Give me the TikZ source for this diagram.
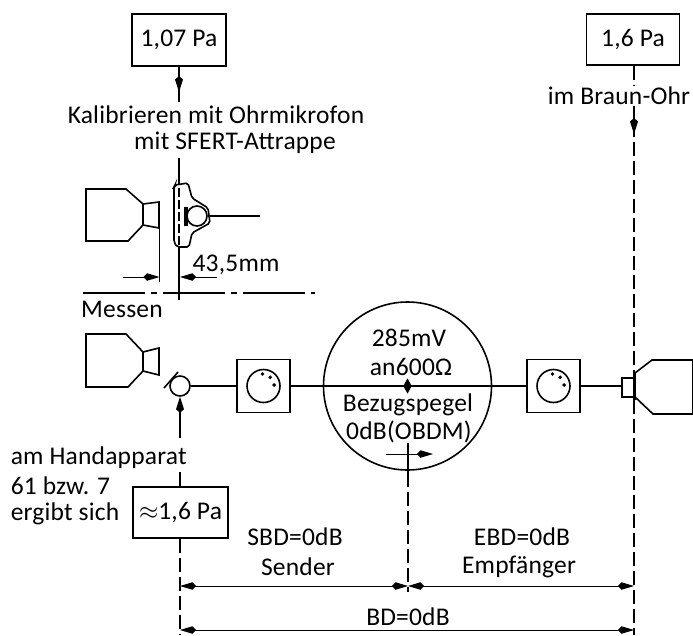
\documentclass[tikz,border=0pt]{standalone}
\usepackage{fontspec}
\setmainfont{Carlito}[LetterSpace=0.8]
\usetikzlibrary{positioning, arrows.meta, shapes.geometric, calc}

\begin{document}
\begin{tikzpicture}[
  x=1pt, y=-1pt,
  font=\fontsize{25.5}{27}\selectfont,
  line width=1.6pt,
  box/.style={draw, line width=1.8pt, inner sep=0pt},
  pegel/.style={box, minimum width=53pt, minimum height=53pt},
  knob/.style={draw, circle, minimum size=33pt, inner sep=0pt},
  knobdot/.style={fill, circle, inner sep=1.4pt},
  txt/.style={inner sep=1pt},
  mask/.style={txt, fill=white},
  arrow/.style={-{Kite[length=16pt, width=8pt, inset=3.5pt]}},
  dimline/.style={{Kite[length=16pt, width=7.5pt, inset=3.5pt]}-{Kite[length=16pt, width=7.5pt, inset=3.5pt]}, line width=1pt},
  dimright/.style={-{Kite[length=16pt, width=7.5pt, inset=3.5pt]}, line width=1pt},
  bezug/.style={dash pattern=on 14pt off 5pt},
  thin1/.style={line width=1pt},
]
\path[use as bounding box] (0,0) rectangle (693,635);

\node[box, minimum width=94pt, minimum height=52pt] (soll) at (179,40) {1,07 Pa};
\node[box, minimum width=93pt, minimum height=51pt] (ohr) at (633,39.5) {1,6 Pa};
\node[box, minimum width=95pt, minimum height=51pt] (hand) at (180.5,512.5) {$\approx$1,6 Pa};
\node[pegel] (sender) at (263.5,386) {};
\node[pegel] (empf) at (553.5,386) {};
\node[knob] (knobS) at (263.5,386) {};
\node[knob] (knobE) at (553.5,386) {};
\node[draw, circle, minimum size=168pt, inner sep=0pt] (bezugspegel) at (407.5,386) {};
\node[draw, circle, minimum size=20pt, inner sep=0pt] (mikro) at (180,386) {};
\coordinate (ohrmik) at (197,216);

% Kalibrieren
\coordinate (attrO) at (179,102);
\coordinate (attrU) at (179,158);
\coordinate (trenn) at (179,300);
\coordinate (wire) at (260,216);
\draw (soll.south -| attrO) -- (attrO);
\draw[arrow] (soll.south -| attrO) -- (179,92);
\draw (attrU) -- (trenn);
\draw[fill=white, rounded corners=2pt] (175,185) -- (188,183) -- (192,198) -- (208,208) -- (210,223)
  -- (192,233) -- (189,247) -- (177,247) -- (174,242) -- (174,187) -- cycle;
\draw[dash pattern=on 9pt off 3pt] (179,188) -- (179,245);
\draw[line width=4pt] (186,207) -- (186,226);
\node[draw, fill=white, circle, minimum size=20pt, inner sep=0pt] (kapsel) at (ohrmik) {};
\draw (kapsel.east) -- (wire);

% Lautsprecher
\draw (86,189) -- (126,189) -- (143,204) -- (159,202) -- (159,228) -- (143,225) -- (128,241) -- (86,241) -- cycle;
\draw (143,204) -- (143,225);
\draw (86,334) -- (126,334) -- (143,352) -- (159,348) -- (159,375) -- (143,371) -- (128,387) -- (86,387) -- cycle;
\draw (143,352) -- (143,371);
\draw (622,378) -- (634,378) -- (634,397) -- (622,397) -- cycle;
\draw (635,373) -- (652,360) -- (693,360) -- (693,414) -- (653,414) -- (635,397);
\draw[line width=2.4pt] (634.5,372) -- (634.5,400);

% Masslinie 43,5
\coordinate (massA) at (159.5,277);
\coordinate (massB) at (180,277);
\draw[thin1] (159.5,228) -- (159.5,282);
\draw[dimright] (123,277) -- (massA);
\draw[dimright] (217,277) -- (massB);
\draw[dash pattern=on 62pt off 6pt on 6pt off 6pt] (83,293) -- (315,293);

% Messen
\draw (164,388) -- (178,372);
\draw (mikro.east) -- (sender.west);
\draw (sender.east) -- (empf.west);
\draw (empf.east) -- (622,386);
\coordinate (handO) at (180,438);
\coordinate (handU) at (180,472);
\draw[arrow] (handO) -- (mikro.south);
\draw (handU) -- (hand.north -| handU);
\node[diamond, fill, minimum width=9pt, minimum height=16pt, inner sep=0pt] (mitte) at (bezugspegel) {};
\foreach \k in {knobS, knobE} {
  \node[knobdot] at ($(\k)+(-1,-12)$) {};
  \node[knobdot] at ($(\k)+(6.7,-8.7)$) {};
  \node[knobdot] at ($(\k)+(10.7,-1)$) {};
}

% Bezugslinien
\coordinate (s0) at (180,586);
\coordinate (s1) at (180,635);
\coordinate (m1) at (408,473);
\coordinate (m2) at (408,592);
\coordinate (r0) at (634,586);
\coordinate (r1) at (634,630);
\draw[bezug] (hand.south -| s0) -- (s1);
\draw (408,443) -- (m1);
\draw[bezug] (m1) -- (m2);
\draw[dimright] (386,454) -- (433,454);
\draw[bezug] (ohr.south -| r0) -- (634,372);
\draw[bezug] (634,400) -- (634,635);
\draw[arrow] (634,107) -- (634,134);
\coordinate (m0) at (408,586);
\draw[dimline] (s0) -- (m0);
\draw[dimline] (m0) -- (r0);
\draw[dimline] (180,630) -- (r1);

% Texte
\node[mask] (kalib) at (216,115) {Kalibrieren mit Ohrmikrofon};
\node[mask] (sfert) at (235,143) {mit SFERT-Attrappe};
\node[mask] (braun) at (619,96) {im Braun-Ohr};
\node[txt] (mass) at (236,265) {43,5mm};
\node[txt] (messen) at (122,309) {Messen};
\node[txt] (mv) at (409,338) {285mV};
\node[txt] (an) at (411,367) {an600Ω};
\node[txt] (bzg) at (408,405) {Bezugspegel};
\node[txt] (obdm) at (409,432) {0dB(OBDM)};
\node[txt, anchor=west] (handapp) at (9,458) {am Handapparat};
\node[txt, anchor=west] (bzw) at (9,486) {61 bzw. 7};
\node[txt, anchor=west] (ergibt) at (9,514) {ergibt sich};
\node[txt] (sbd) at (295,537) {SBD=0dB};
\node[txt] (sdr) at (298,567) {Sender};
\node[txt] (ebd) at (522,537) {EBD=0dB};
\node[txt] (epf) at (519,567) {Empfänger};
\node[txt] (bd) at (408,617) {BD=0dB};
\end{tikzpicture}
\end{document}
